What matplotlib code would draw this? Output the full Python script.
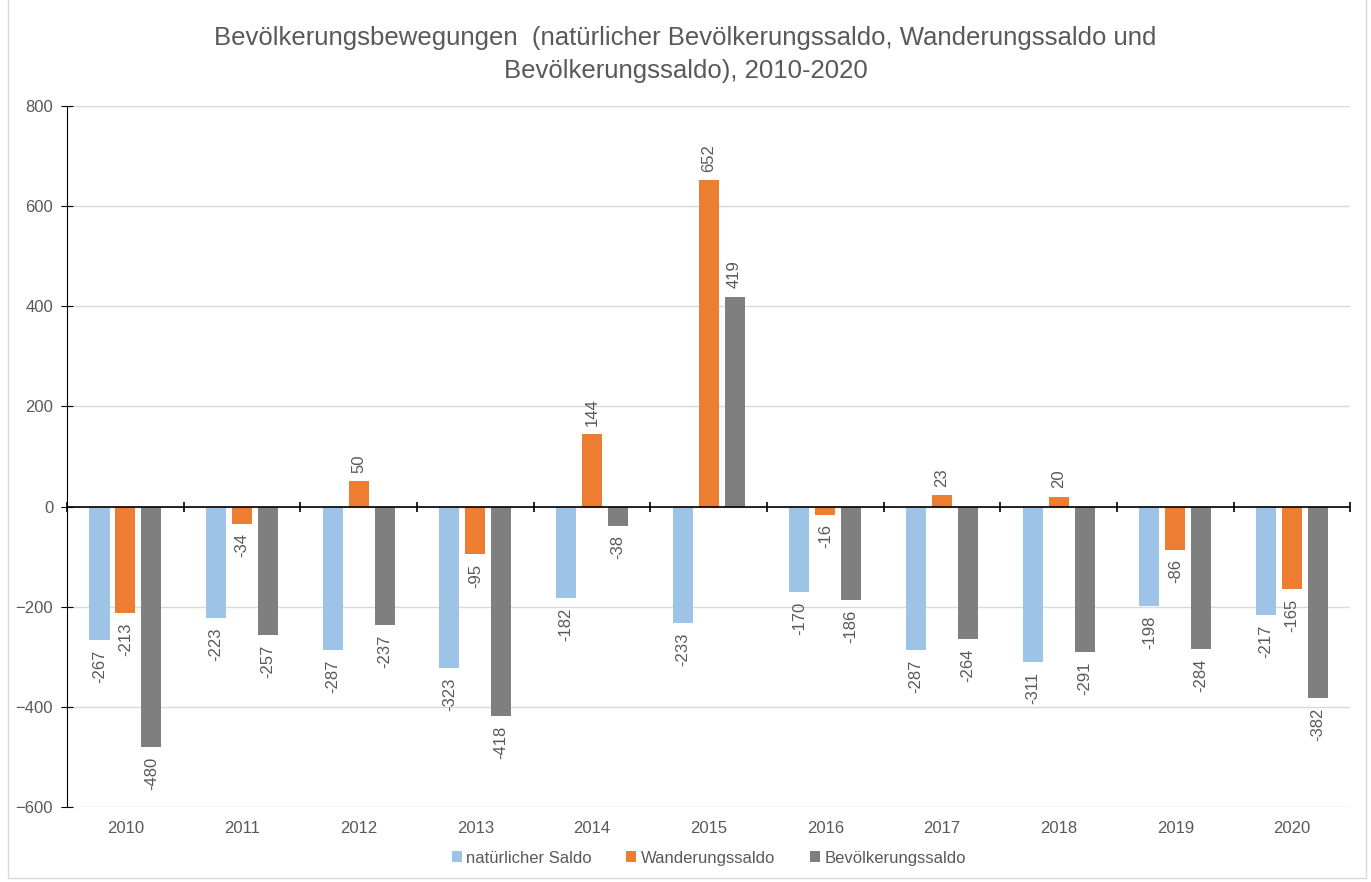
import matplotlib.pyplot as plt
import numpy as np
from matplotlib.patches import Rectangle

plt.rc('font', family='Liberation Sans')

years = ['2010', '2011', '2012', '2013', '2014', '2015', '2016', '2017', '2018', '2019', '2020']
natuerlich = [-267, -223, -287, -323, -182, -233, -170, -287, -311, -198, -217]
wanderung = [-213, -34, 50, -95, 144, 652, -16, 23, 20, -86, -165]
bevoelkerung = [-480, -257, -237, -418, -38, 419, -186, -264, -291, -284, -382]

series = [
    ('natürlicher Saldo', natuerlich, '#9DC3E6'),
    ('Wanderungssaldo', wanderung, '#ED7D31'),
    ('Bevölkerungssaldo', bevoelkerung, '#7F7F7F'),
]

txt = '#595959'
fig = plt.figure(figsize=(13.71, 8.82), dpi=100)
ax = fig.add_axes([0.0489, 0.085, 0.936, 0.795])

x = np.arange(len(years))
w = 0.172
step = 0.222
for i, (name, vals, col) in enumerate(series):
    pos = x + (i - 1) * step
    ax.bar(pos, vals, width=w, color=col, label=name, zorder=3)
    for p, v in zip(pos, vals):
        if v < 0:
            ax.annotate(str(v), (p, v), xytext=(0, -7), textcoords='offset points',
                        rotation=90, ha='center', va='top', fontsize=12, color=txt)
        else:
            ax.annotate(str(v), (p, v), xytext=(0, 6), textcoords='offset points',
                        rotation=90, ha='center', va='bottom', fontsize=12, color=txt)

ax.set_ylim(-600, 800)
ax.set_xlim(-0.5, len(years) - 0.5)
ax.set_yticks(range(-600, 801, 200))
ax.set_xticks(x)
ax.set_xticklabels(years)
ax.yaxis.grid(True, color='#D9D9D9', linewidth=1, zorder=0)
ax.tick_params(axis='y', direction='inout', length=8, colors='black', labelcolor=txt,
               labelsize=12, pad=6)
ax.tick_params(axis='x', length=0, labelcolor=txt, labelsize=12, pad=10)
for s in ['top', 'right', 'bottom']:
    ax.spines[s].set_visible(False)
ax.spines['left'].set_color('black')
ax.axhline(0, color='black', linewidth=1.2, zorder=4)
ax.vlines(np.arange(len(years) + 1) - 0.5, -10, 10, color='black', linewidth=1.2, zorder=4,
          clip_on=False)

ax.legend(loc='lower center', bbox_to_anchor=(0.5, -0.105), ncol=3, frameon=False,
          fontsize=12, labelcolor=txt, handlelength=0.6, handleheight=0.6,
          handletextpad=0.25, columnspacing=2.1)

fig.text(0.5, 0.938, 'Bevölkerungsbewegungen  (natürlicher Bevölkerungssaldo, Wanderungssaldo und\nBevölkerungssaldo), 2010-2020',
         ha='center', va='center', fontsize=18.5, color=txt, linespacing=1.45)

fig.patches.append(Rectangle((0.006, 0.005), 0.99, 1.2, transform=fig.transFigure,
                             fill=False, edgecolor='#D9D9D9', linewidth=1))

fig.savefig('out.png', dpi=100)
